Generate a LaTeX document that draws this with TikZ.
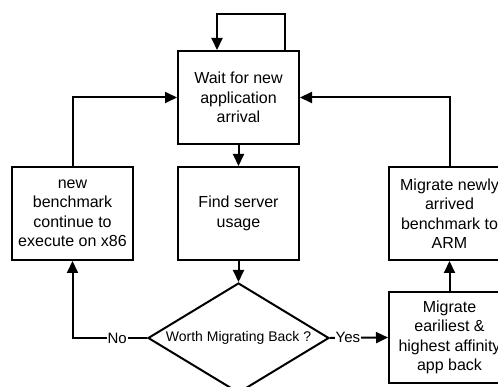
\documentclass[tikz,border=0pt]{standalone}
\usepackage{fontspec}
\setmainfont{Liberation Sans}
\usetikzlibrary{shapes.geometric,arrows.meta}
\tikzset{
  box/.style={draw, line width=2pt, minimum width=121pt, minimum height=93pt, align=center, inner sep=0pt, font=\fontsize{16}{19.5}\selectfont},
  decision/.style={draw, diamond, aspect=1.645, line width=2pt, minimum width=181pt, minimum height=110pt, inner sep=0pt, font=\fontsize{14}{17}\selectfont},
  conn/.style={line width=2pt},
  arr/.style={conn, -{Triangle[length=12pt,width=11pt]}},
  lbl/.style={fill=white, inner sep=1pt, font=\fontsize{15}{18}\selectfont}
}
\begin{document}
\begin{tikzpicture}[x=1pt,y=-1pt]
\useasboundingbox (0,0) rectangle (498,387);
\clip (0,0) rectangle (498,387);
\node[box] (wait) at (238.5,97.5) {Wait for new\\application\\arrival};
\node[box] (find) at (238.5,213.5) {Find server\\usage};
\node[box] (left) at (72.5,213.5) {new\\benchmark\\continue to\\execute on x86};
\node[box] (armnew) at (449.5,213.5) {Migrate newly\\arrived\\benchmark to\\ARM};
\node[box, minimum height=91pt] (back) at (449.5,337.5) {Migrate\\eariliest \&\\highest affinity\\app back};
\node[decision] (dec) at (238.5,338) {Worth Migrating Back ?};
\coordinate (loopR) at (285,14);
\coordinate (loopL) at (217,14);
\draw[arr] (wait.north -| loopR) -- (loopR) -- (loopL) -- (wait.north -| loopL);
\draw[arr] (wait.south) -- (find.north);
\draw[arr] (find.south) -- (dec.north);
\draw[arr] (dec.west) -| node[lbl, pos=0.2] {No} (left.south);
\draw[arr] (dec.east) -- node[lbl, pos=0.31] {Yes} (back.west);
\draw[arr] (back.north) -- (armnew.south);
\draw[arr] (armnew.north) |- (wait.east);
\draw[arr] (left.north) |- (wait.west);
\end{tikzpicture}
\end{document}
